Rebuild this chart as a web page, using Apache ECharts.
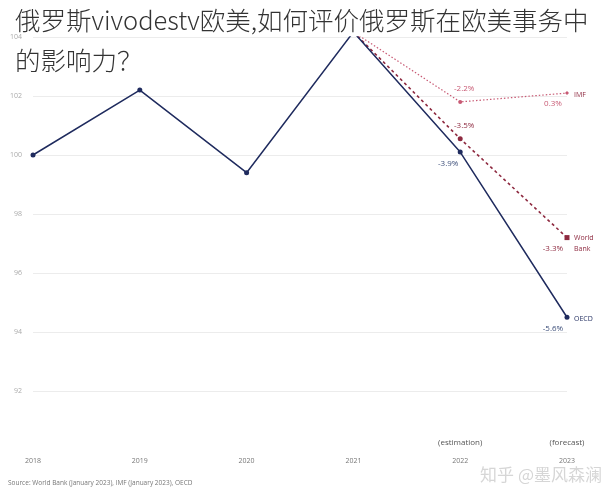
<!DOCTYPE html>
<html><head><meta charset="utf-8">
<script src="https://cdn.jsdelivr.net/npm/echarts@6/dist/echarts.min.js"></script>
<style>html,body{margin:0;padding:0;background:#fff}#c{width:608px;height:500px}</style>
</head><body><div id="c"></div>
<script>
const years = ['2018','2019','2020','2021','2022','2023'];
const yearNotes = ['', '', '', '', '(estimation)', '(forecast)'];
const oecd = [100, 102.2, 99.4, 104.17, 100.1, 94.5];
const worldBank = [null, null, null, 104.17, 100.55, 97.2];
const imf = [null, null, null, 104.17, 101.8, 102.1];
const oecdPct = ['', '', '', '', '-3.9%', '-5.6%'];
const worldBankPct = ['', '', '', '', '-3.5%', '-3.3%'];
const imfPct = ['', '', '', '', '-2.2%', '0.3%'];
const seriesNames = ['OECD', 'World\nBank', 'IMF'];
const yMin = 90, yMax = 104, yStep = 2;
const titleText = '俄罗斯vivodestv欧美,如何评价俄罗斯在欧美事务中\n的影响力？';
const sourceText = 'Source: World Bank (January 2023), IMF (January 2023), OECD';
const watermark = '知乎 @墨风森澜';

const C_OECD = '#1f2b5e', C_WB = '#8e2a40', C_IMF = '#c85a74';
const font = 'Open Sans, Noto Sans, sans-serif';

function mkData(vals, pcts, color, pctPos, lastSymbol) {
  return vals.map((v, i) => {
    if (v === null) return null;
    const d = { value: v };
    const last = i === vals.length - 1;
    if (pcts[i]) {
      const pos = pctPos[i];
      d.label = { show: true, position: pos === 'top' ? 'top' : 'bottom',
        formatter: pcts[i], color: color, fontSize: 8, fontFamily: font,
        offset: pos === 'top' ? [4, -2] : (pos === 'bl' ? [-12, 0] : [-14, 0]) };
    }
    if (last && lastSymbol) d.symbol = lastSymbol;
    if (i === 3) d.itemStyle = { color: '#b3aad3' };
    return d;
  });
}

const chart = echarts.init(document.getElementById('c'));
const option = {
  animation: false,
  backgroundColor: '#fff',
  title: {
    text: titleText, left: 10, top: -5,
    textStyle: { fontFamily: 'Noto Sans CJK SC', fontSize: 25.5, fontWeight: 300, color: '#333', lineHeight: 40 }
  },
  grid: { left: 33, right: 41, top: 37, bottom: 50 },
  xAxis: {
    type: 'category', data: years, boundaryGap: false,
    axisLine: { show: false }, axisTick: { show: false },
    axisLabel: { color: '#777', fontSize: 7, fontFamily: font, margin: 7 },
    splitLine: { show: false }
  },
  yAxis: {
    type: 'value', min: yMin, max: yMax, interval: yStep,
    axisLine: { show: false }, axisTick: { show: false },
    axisLabel: { showMinLabel: false, color: '#aaa', fontSize: 7, fontFamily: font, margin: 11 },
    splitLine: { showMinLine: false, lineStyle: { color: '#ececec', width: 1 } }
  },
  series: [
    {
      name: 'IMF', type: 'line', data: mkData(imf, imfPct, C_IMF, ['', '', '', '', 'top', 'far'], 'diamond'),
      symbol: 'circle', symbolSize: 4, itemStyle: { color: C_IMF },
      lineStyle: { color: C_IMF, width: 1.2, type: [1.5, 2] }, z: 2
    },
    {
      name: 'World Bank', type: 'line', data: mkData(worldBank, worldBankPct, C_WB, ['', '', '', '', 'top', 'far'], 'rect'),
      symbol: 'circle', symbolSize: 5, itemStyle: { color: C_WB },
      lineStyle: { color: C_WB, width: 1.6, type: [3, 3] }, z: 3
    },
    {
      name: 'OECD', type: 'line', data: mkData(oecd, oecdPct, '#3d4f7a', ['', '', '', '', 'bl', 'far']),
      symbol: 'circle', symbolSize: 5, itemStyle: { color: C_OECD },
      lineStyle: { color: C_OECD, width: 1.5 }, z: 4
    }
  ]
};
chart.setOption(option);

const g = [];
const last = years.length - 1;
const ends = [[oecd[last], seriesNames[0], C_OECD], [worldBank[last], seriesNames[1], C_WB], [imf[last], seriesNames[2], C_WB]];
ends.forEach(e => {
  const p = chart.convertToPixel({ gridIndex: 0 }, [years[last], e[0]]);
  g.push({ type: 'text', left: p[0] + 7, top: p[1] - (e[1].indexOf('\n') >= 0 ? 5 : 4),
    style: { text: e[1], fill: e[2], fontSize: 7, fontFamily: font, lineHeight: 11 } });
});
yearNotes.forEach((t, i) => {
  if (!t) return;
  const p = chart.convertToPixel({ gridIndex: 0 }, [years[i], yMin]);
  g.push({ type: 'text', x: p[0], y: p[1] - 7, style: { text: t, fill: '#555', fontSize: 8, fontFamily: font, textAlign: 'center', textVerticalAlign: 'middle' } });
});
g.push({ type: 'text', left: 8, top: 480, style: { text: sourceText, fill: '#777', fontSize: 6.5, fontFamily: font } });
g.push({ type: 'text', right: 6, top: 466, style: { text: watermark, fill: '#d6d6d6', fontSize: 17, fontFamily: 'Noto Sans CJK SC' } });
chart.setOption({ graphic: g });
</script></body></html>
